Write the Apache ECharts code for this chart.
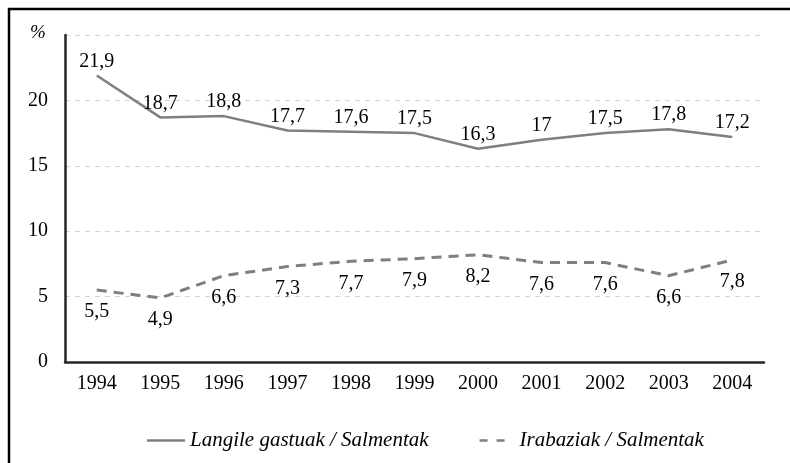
<!DOCTYPE html>
<html>
<head>
<meta charset="utf-8">
<script src="https://cdn.jsdelivr.net/npm/echarts@6/dist/echarts.min.js"></script>
<style>
  html, body { margin: 0; padding: 0; background: #fff; }
  #box { width: 790px; height: 463px; }
</style>
</head>
<body>
<div id="box"></div>
<script>
var years = ['1994', '1995', '1996', '1997', '1998', '1999', '2000', '2001', '2002', '2003', '2004'];
var langile = [21.9, 18.7, 18.8, 17.7, 17.6, 17.5, 16.3, 17, 17.5, 17.8, 17.2];
var irabaziak = [5.5, 4.9, 6.6, 7.3, 7.7, 7.9, 8.2, 7.6, 7.6, 6.6, 7.8];
var names = ['Langile gastuak / Salmentak', 'Irabaziak / Salmentak'];

var font = 'Liberation Serif';
var chartDom = document.getElementById('box');
var myChart = echarts.init(chartDom);

function comma(p) {
  return String(p.value).replace('.', ',');
}

var option = {
  animation: false,
  textStyle: { fontFamily: font },
  grid: { left: 65, right: 26, top: 35, bottom: 101 },
  legend: {
    bottom: 7,
    left: 142,
    itemGap: 48,
    itemWidth: 38,
    itemHeight: 14,
    textStyle: { fontFamily: font, fontStyle: 'italic', fontSize: 21, color: '#000' },
    data: [
      { name: names[0], icon: 'path://M0,0 L38,0 L38,2.5 L0,2.5 Z', itemStyle: { color: '#7f7f7f' } },
      { name: names[1], icon: 'path://M0,0 L0,0 Z M3,0 L11,0 L11,2.5 L3,2.5 Z M20,0 L28,0 L28,2.5 L20,2.5 Z M38,2.5 L38,2.5 Z', itemStyle: { color: '#7f7f7f' } }
    ]
  },
  graphic: [
    {
      type: 'rect',
      shape: { x: 9, y: 9, width: 820, height: 500 },
      style: { fill: 'none', stroke: '#000', lineWidth: 2.5 }
    },
    {
      type: 'text',
      left: 30, top: 23,
      style: { text: '%', font: 'italic 19px "Liberation Serif"', fill: '#000' }
    }
  ],
  xAxis: {
    type: 'category',
    data: years,
    axisTick: { show: false },
    axisLine: { lineStyle: { color: '#262626', width: 2.5 } },
    axisLabel: { color: '#000', fontSize: 20, margin: 12 }
  },
  yAxis: {
    type: 'value',
    min: 0,
    max: 25,
    interval: 5,
    axisLine: { show: true, lineStyle: { color: '#262626', width: 2.5 } },
    axisTick: { show: false },
    axisLabel: {
      color: '#000', fontSize: 20, margin: 17,
      formatter: function (v) { return v === 25 ? '' : v; }
    },
    splitLine: { lineStyle: { color: '#d4d4d4', type: [5, 5], width: 1 } }
  },
  series: [
    {
      name: names[0],
      type: 'line',
      data: langile,
      symbol: 'circle',
      symbolSize: 0.01,
      showSymbol: true,
      lineStyle: { color: '#7f7f7f', width: 2.5 },
      itemStyle: { color: '#7f7f7f' },
      label: {
        show: true, position: 'top', distance: 4,
        color: '#000', fontSize: 20, formatter: comma
      }
    },
    {
      name: names[1],
      type: 'line',
      data: irabaziak,
      symbol: 'circle',
      symbolSize: 0.01,
      showSymbol: true,
      lineStyle: { color: '#7f7f7f', width: 3, type: [10, 7] },
      itemStyle: { color: '#7f7f7f' },
      label: {
        show: true, position: 'bottom', distance: 12,
        color: '#000', fontSize: 20, formatter: comma
      }
    }
  ]
};
option && myChart.setOption(option);
</script>
</body>
</html>
